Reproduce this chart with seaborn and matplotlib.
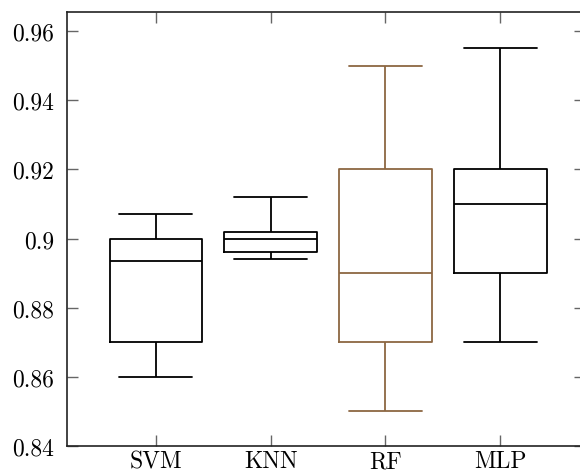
# Box plot of accuracy per classifier (pgfplots-like look)

import matplotlib
matplotlib.use("Agg")
import matplotlib.pyplot as plt
import seaborn as sns
import pandas as pd

models = ["SVM", "KNN", "RF", "MLP"]
# five summary values per model: min, q1, median, q3, max
svm_acc = [0.860, 0.870, 0.8934, 0.900, 0.907]
knn_acc = [0.894, 0.896, 0.900, 0.902, 0.912]
rf_acc = [0.850, 0.870, 0.890, 0.920, 0.950]
mlp_acc = [0.870, 0.890, 0.910, 0.920, 0.955]
y_ticks = [0.84, 0.86, 0.88, 0.90, 0.92, 0.94, 0.96]
y_tick_labels = ["0.84", "0.86", "0.88", "0.9", "0.92", "0.94", "0.96"]

colors = {"SVM": "black", "KNN": "black", "RF": "#8c6742", "MLP": "black"}

df = pd.DataFrame({
    "model": [m for m, v in zip(models, [svm_acc, knn_acc, rf_acc, mlp_acc]) for _ in v],
    "acc": svm_acc + knn_acc + rf_acc + mlp_acc,
})

sns.set_style("ticks")
plt.rcParams["font.family"] = ["cmr10", "DejaVu Serif"]
plt.rcParams["axes.formatter.use_mathtext"] = True

fig = plt.figure(figsize=(5.8, 4.77), dpi=100)
ax = fig.add_axes([0.1155, 0.0629, 0.893, 0.9098])

box_width = 0.81
sns.boxplot(data=df, x="model", y="acc", hue="model", order=models,
            palette=colors, fill=False, whis=(0, 100), width=box_width,
            linewidth=1.3, legend=False, ax=ax)

# widen the whisker caps
for line in ax.lines:
    xs = line.get_xdata()
    ys = line.get_ydata()
    if len(xs) == 2 and ys[0] == ys[1] and abs(xs[1] - xs[0]) < box_width * 0.9 \
            and abs(xs[1] - xs[0]) > 0.2:
        c = (xs[0] + xs[1]) / 2
        half = box_width * 0.786 / 2
        line.set_xdata([c - half, c + half])

ax.set_xlim(-0.776, 3.74)
ax.set_ylim(0.84, 0.9655)
ax.set_yticks(y_ticks)
ax.set_yticklabels(y_tick_labels)
ax.set_xlabel("")
ax.set_ylabel("")

for s in ax.spines.values():
    s.set_visible(True)
    s.set_color("#222222")
    s.set_linewidth(1.2)

ax.tick_params(axis="both", direction="in", length=8, width=1.0,
               color="#666666", labelsize=17, labelcolor="black",
               top=True, right=True)
ax.tick_params(axis="y", pad=9)
ax.tick_params(axis="x", pad=3)

fig.savefig("out.png", dpi=100)
